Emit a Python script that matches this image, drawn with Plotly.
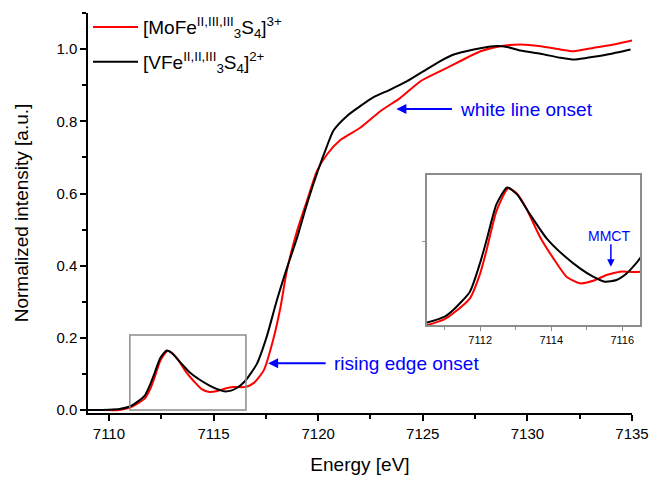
import plotly.graph_objects as go

# ---------------- data ----------------
energy_mo = [7109.0, 7110.0, 7110.5, 7111.0, 7111.24, 7111.71, 7112.0, 7112.18, 7112.46, 7112.79,
             7113.05, 7113.31, 7113.68, 7114.06, 7114.43, 7114.81, 7115.18, 7115.56, 7115.94, 7116.5,
             7116.9, 7117.4, 7117.85, 7118.2, 7118.5, 7118.99, 7119.46, 7119.94, 7120.42, 7121.06,
             7122.01, 7122.97, 7123.93, 7124.89, 7125.84, 7126.80, 7127.76, 7128.71, 7129.67, 7130.63,
             7131.58, 7132.22, 7133.18, 7134.14, 7135.0]
intens_mo = [0.000, 0.000, 0.000, 0.007, 0.014, 0.032, 0.062, 0.090, 0.137, 0.164,
             0.157, 0.139, 0.106, 0.080, 0.058, 0.050, 0.053, 0.060, 0.064, 0.064,
             0.074, 0.110, 0.195, 0.285, 0.385, 0.496, 0.579, 0.662, 0.708, 0.748,
             0.782, 0.828, 0.865, 0.911, 0.939, 0.967, 0.994, 1.008, 1.013, 1.008,
             0.999, 0.994, 1.004, 1.013, 1.024]

energy_v = [7109.0, 7110.0, 7110.5, 7111.0, 7111.24, 7111.71, 7112.0, 7112.18, 7112.46, 7112.76,
            7113.03, 7113.40, 7113.87, 7114.34, 7114.81, 7115.18, 7115.51, 7115.84, 7116.13, 7116.5,
            7117.07, 7117.55, 7118.03, 7118.51, 7118.99, 7119.46, 7120.0, 7120.4, 7120.74, 7121.38,
            7122.01, 7122.65, 7123.45, 7124.25, 7125.04, 7125.84, 7126.48, 7127.44, 7128.39, 7129.03,
            7129.67, 7130.63, 7131.58, 7132.22, 7132.86, 7133.82, 7134.93]
intens_v = [0.000, 0.001, 0.003, 0.010, 0.018, 0.040, 0.075, 0.102, 0.145, 0.165,
            0.157, 0.133, 0.104, 0.084, 0.068, 0.058, 0.052, 0.054, 0.062, 0.080,
            0.128, 0.205, 0.305, 0.394, 0.477, 0.570, 0.665, 0.728, 0.775, 0.815,
            0.842, 0.867, 0.888, 0.911, 0.939, 0.967, 0.985, 0.999, 1.008, 1.006,
            0.996, 0.987, 0.976, 0.971, 0.976, 0.985, 0.999]

name_mo = "[MoFe<sup>II,III,III</sup><sub>3</sub>S<sub>4</sub>]<sup>3+</sup>"
name_v = "[VFe<sup>II,II,III</sup><sub>3</sub>S<sub>4</sub>]<sup>2+</sup>"

zoom_box = [7111.0, 7116.55, 0.0, 0.208]   # x0, x1, y0, y1 of the zoomed region

FONT = "Arial, Liberation Sans, sans-serif"
RED = "#ff0000"
BLACK = "#000000"
BLUE = "#0000ff"
GRAY = "#8c8c8c"

fig = go.Figure()
# main traces
fig.add_trace(go.Scatter(x=energy_mo, y=intens_mo, mode="lines", name=name_mo, legendgroup="mo",
                         line=dict(color=RED, width=2, shape="spline", smoothing=0.6)))
fig.add_trace(go.Scatter(x=energy_v, y=intens_v, mode="lines", name=name_v, legendgroup="v",
                         line=dict(color=BLACK, width=2, shape="spline", smoothing=0.6)))
# inset traces
fig.add_trace(go.Scatter(x=energy_mo, y=intens_mo, mode="lines", showlegend=False,
                         xaxis="x2", yaxis="y2",
                         line=dict(color=RED, width=2, shape="spline", smoothing=0.6)))
fig.add_trace(go.Scatter(x=energy_v, y=intens_v, mode="lines", showlegend=False,
                         xaxis="x2", yaxis="y2",
                         line=dict(color=BLACK, width=2, shape="spline", smoothing=0.6)))

fig.update_layout(
    width=653, height=480,
    margin=dict(l=88, r=13, t=13, b=67, autoexpand=False),
    paper_bgcolor="white", plot_bgcolor="rgba(0,0,0,0)",
    font=dict(family=FONT, color="black", size=15),
    showlegend=True,
    legend=dict(x=0.0, y=1.012, xanchor="left", yanchor="top", bgcolor="rgba(0,0,0,0)",
                font=dict(size=19, family=FONT), itemwidth=45, tracegroupgap=7),
    xaxis=dict(domain=[0, 0.9855], range=[7109, 7135], tick0=7110, dtick=5,
               showline=True, linecolor="black", linewidth=1.5, mirror=False,
               ticks="outside", ticklen=6, tickwidth=1.5, tickcolor="black",
               minor=dict(dtick=2.5, ticks="outside", ticklen=4, tickwidth=1.5, tickcolor="black"),
               showgrid=False, zeroline=False, tickfont=dict(size=15), automargin=False,
               title=dict(text="Energy [eV]", font=dict(size=19), standoff=17)),
    yaxis=dict(domain=[0, 1], range=[-0.008, 1.1], tick0=0, dtick=0.2, tickformat=".1f",
               showline=True, linecolor="black", linewidth=1.5, mirror=False,
               ticks="outside", ticklen=6, tickwidth=1.5, tickcolor="black",
               minor=dict(dtick=0.1, ticks="outside", ticklen=4, tickwidth=1.5, tickcolor="black"),
               showgrid=False, zeroline=False, tickfont=dict(size=15), automargin=False,
               title=dict(text="Normalized intensity [a.u.]", font=dict(size=19), standoff=23)),
    xaxis2=dict(domain=[0.614, 1.0], anchor="y2", range=[7110.5, 7116.5], tick0=7112, dtick=2,
                showline=True, linecolor=GRAY, linewidth=1.5, mirror=True,
                ticks="outside", ticklen=4, tickwidth=1, tickcolor=GRAY,
                minor=dict(dtick=1, ticks="outside", ticklen=3, tickwidth=1, tickcolor=GRAY),
                showgrid=False, zeroline=False, tickfont=dict(size=11), automargin=False),
    yaxis2=dict(domain=[0.22, 0.595], anchor="x2", range=[0, 0.18], tickvals=[0.1],
                showticklabels=False, showline=True, linecolor=GRAY, linewidth=1.5, mirror=True,
                ticks="outside", ticklen=3, tickwidth=1, tickcolor=GRAY,
                showgrid=False, zeroline=False, automargin=False),
)

fig.add_shape(type="rect", xref="x", yref="y", x0=zoom_box[0], x1=zoom_box[1],
              y0=zoom_box[2], y1=zoom_box[3], line=dict(color=GRAY, width=1.5))

# annotations
fig.add_annotation(x=7123.74, y=0.834, xref="x", yref="y", text="", showarrow=True,
                   ax=57, ay=0, arrowhead=2, arrowsize=1, arrowwidth=2, arrowcolor=BLUE)
fig.add_annotation(x=7126.75, y=0.834, xref="x", yref="y", text="white line onset",
                   showarrow=False, xanchor="left", yanchor="middle", borderpad=0,
                   font=dict(size=19, color=BLUE))
fig.add_annotation(x=7117.61, y=0.130, xref="x", yref="y", text="", showarrow=True,
                   ax=59, ay=0, arrowhead=2, arrowsize=1, arrowwidth=2, arrowcolor=BLUE)
fig.add_annotation(x=7120.72, y=0.130, xref="x", yref="y", text="rising edge onset",
                   showarrow=False, xanchor="left", yanchor="middle", borderpad=0,
                   font=dict(size=19, color=BLUE))
fig.add_annotation(x=7115.68, y=0.070, xref="x2", yref="y2", text="", showarrow=True,
                   ax=0, ay=-24, arrowhead=2, arrowsize=1, arrowwidth=1.5, arrowcolor=BLUE)
fig.add_annotation(x=7115.62, y=0.107, xref="x2", yref="y2", text="MMCT",
                   showarrow=False, xanchor="center", yanchor="middle", borderpad=0,
                   font=dict(size=14, color=BLUE))

fig.write_html("out.html")
